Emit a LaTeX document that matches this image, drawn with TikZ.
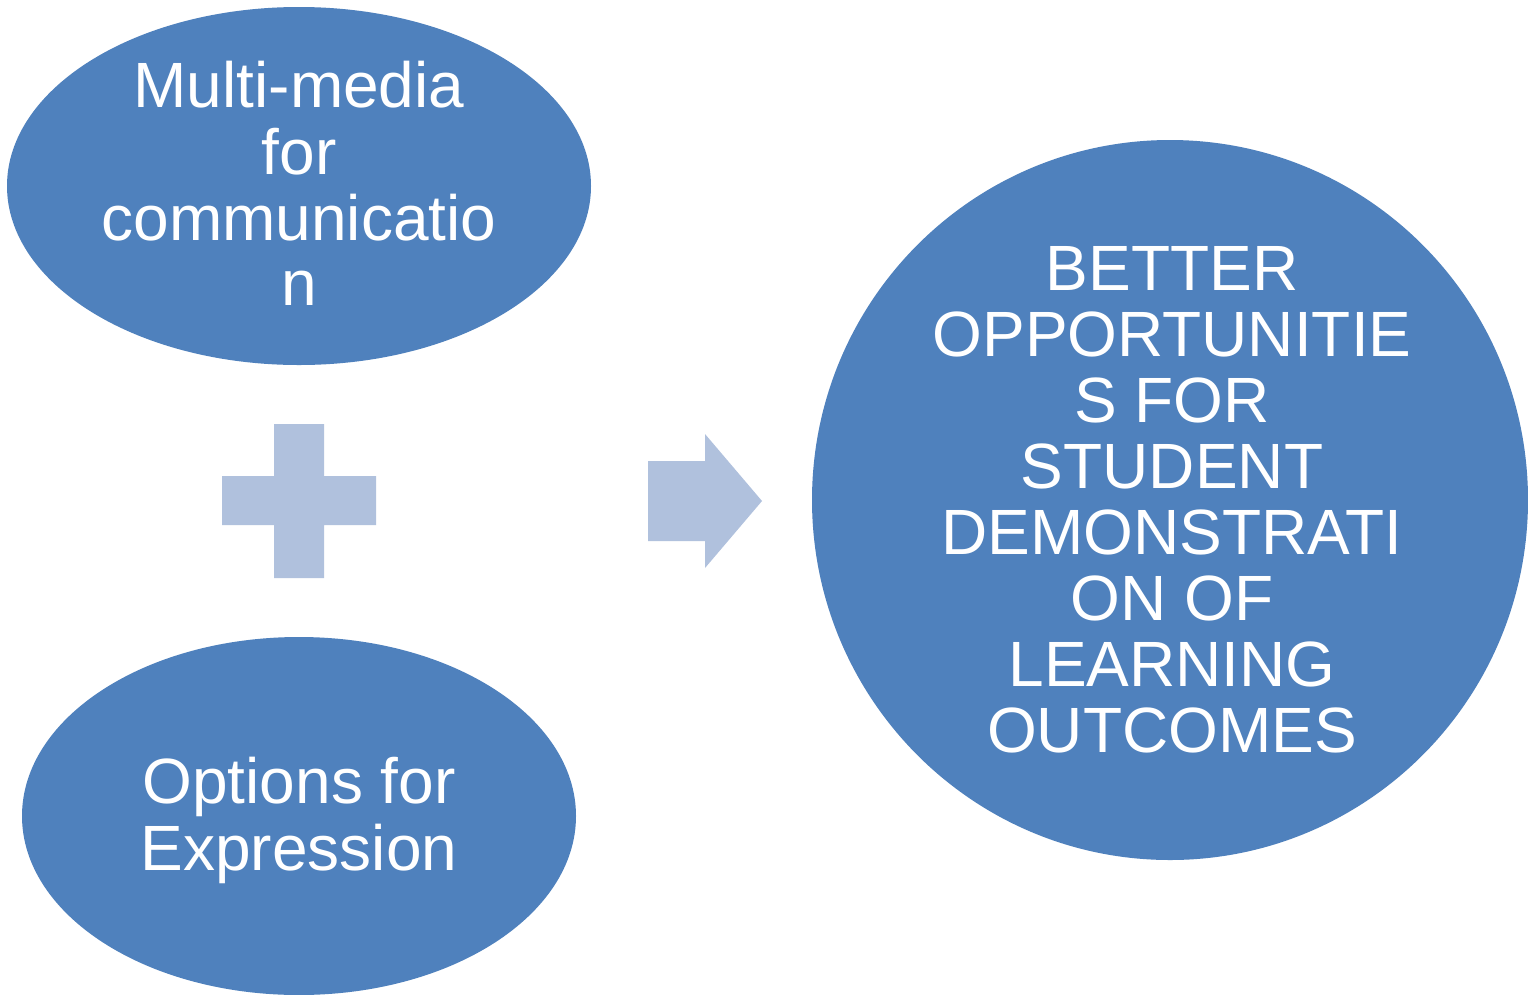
\documentclass[tikz,border=0pt]{standalone}
\usepackage{fontspec}
\setmainfont{Liberation Sans}
\usetikzlibrary{shapes.geometric}
\definecolor{blob}{HTML}{4F81BD}
\definecolor{pale}{HTML}{B0C1DD}
\tikzset{
  blobtext/.style={text=white, align=center, font=\fontsize{64}{66}\selectfont, inner sep=0pt},
  paleshape/.style={fill=pale, draw=none}
}
\begin{document}
\begin{tikzpicture}[x=1pt,y=-1pt]
\useasboundingbox (0,0) rectangle (1528,994);
\fill[white] (0,0) rectangle (1528,994);
% ellipses and circle
\fill[blob] (299,186) ellipse [x radius=292, y radius=179];
\fill[blob] (299,816) ellipse [x radius=277, y radius=179];
\fill[blob] (1170,500) ellipse [x radius=358, y radius=360];
% plus sign
\fill[pale] (274,424) -- (324,424) -- (324,476) -- (376,476) -- (376,525) -- (324,525) -- (324,578) -- (274,578) -- (274,525) -- (222,525) -- (222,476) -- (274,476) -- cycle;
% arrow
\fill[pale] (648,461) -- (705,461) -- (705,434) -- (762,501) -- (705,568) -- (705,541) -- (648,541) -- cycle;
% texts
\node[blobtext, anchor=base] (t1) at (299,107) {Multi-media};
\node[blobtext, anchor=base] (t2) at (299,174) {for};
\node[blobtext, anchor=base] (t3) at (299,240) {communicatio};
\node[blobtext, anchor=base] (t4) at (299,305) {n};
\node[blobtext, anchor=base] (b1) at (299,803) {Options for};
\node[blobtext, anchor=base] (b2) at (299,870) {Expression};
\node[blobtext, anchor=base] (c1) at (1172,290) {BETTER};
\node[blobtext, anchor=base] (c2) at (1172,356) {OPPORTUNITIE};
\node[blobtext, anchor=base] (c3) at (1172,422) {S FOR};
\node[blobtext, anchor=base] (c4) at (1172,488) {STUDENT};
\node[blobtext, anchor=base] (c5) at (1172,554) {DEMONSTRATI};
\node[blobtext, anchor=base] (c6) at (1172,620) {ON OF};
\node[blobtext, anchor=base] (c7) at (1172,686) {LEARNING};
\node[blobtext, anchor=base] (c8) at (1172,752) {OUTCOMES};
\end{tikzpicture}
\end{document}
